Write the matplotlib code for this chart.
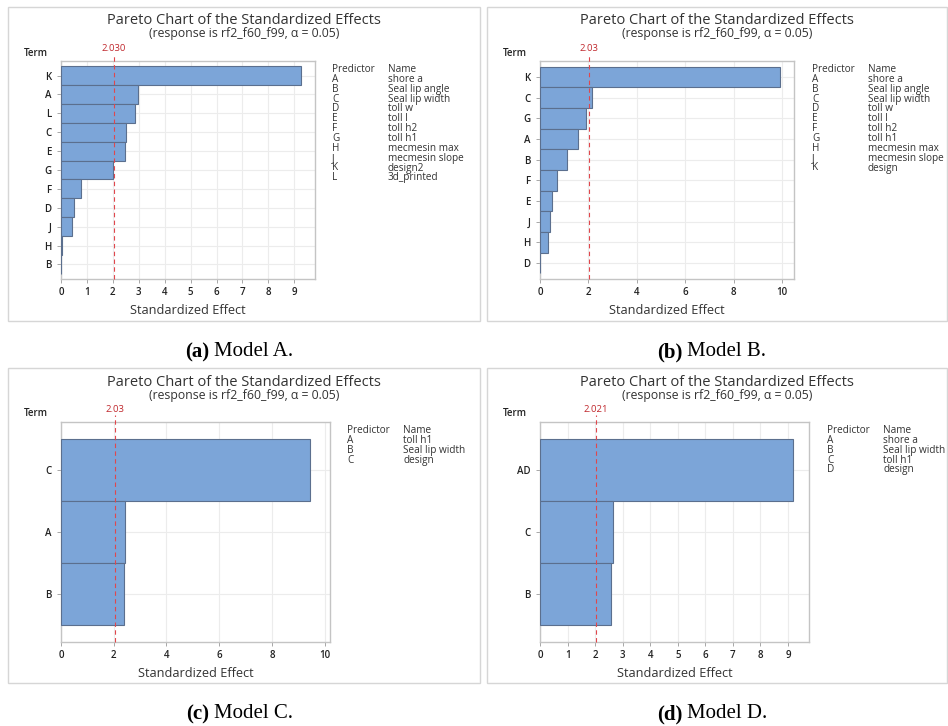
import numpy as np
import matplotlib
matplotlib.use("Agg")
import matplotlib.pyplot as plt
from matplotlib.patches import Rectangle

plt.rcParams['font.family'] = ['Open Sans', 'DejaVu Sans']

W, H = 948, 726

# data
terms_a = ['K', 'A', 'L', 'C', 'E', 'G', 'F', 'D', 'J', 'H', 'B']
effects_a = [9.27, 2.96, 2.86, 2.51, 2.46, 2.01, 0.76, 0.50, 0.44, 0.05, 0.01]
terms_b = ['K', 'C', 'G', 'A', 'B', 'F', 'E', 'J', 'H', 'D']
effects_b = [9.92, 2.14, 1.90, 1.56, 1.13, 0.70, 0.48, 0.41, 0.34, 0.02]
terms_c = ['C', 'A', 'B']
effects_c = [9.46, 2.41, 2.37]
terms_d = ['AD', 'C', 'B']
effects_d = [9.19, 2.645, 2.56]

thresholds = [2.030, 2.03, 2.03, 2.021]
threshold_labels = ['2.030', '2.03', '2.03', '2.021']

names_ab = ['shore a', 'Seal lip angle', 'Seal lip width', 'toll w', 'toll l',
            'toll h2', 'toll h1', 'mecmesin max', 'mecmesin slope']
pred_a = ['A', 'B', 'C', 'D', 'E', 'F', 'G', 'H', 'J', 'K', 'L']
names_a = names_ab + ['design2', '3d_printed']
pred_b = ['A', 'B', 'C', 'D', 'E', 'F', 'G', 'H', 'J', 'K']
names_b = names_ab + ['design']
pred_c = ['A', 'B', 'C']
names_c = ['toll h1', 'Seal lip width', 'design']
pred_d = ['A', 'B', 'C', 'D']
names_d = ['shore a', 'Seal lip width', 'toll h1', 'design']

captions = [('(a)', 'Model A.'), ('(b)', 'Model B.'), ('(c)', 'Model C.'), ('(d)', 'Model D.')]

BAR = '#7ca5d8'
EDGE = '#5b6f8e'
TXT = '#333333'

fig = plt.figure(figsize=(W / 100, H / 100), dpi=100)


def fx(x):
    return x / W


def fy(y):
    return 1 - y / H


def panel(frame, axbox, terms, effects, xmax, xticks, thr, thr_lab, preds, names, leg_x, cap):
    fl, ft, fr, fb = frame
    # light frame round each panel
    fig.add_artist(Rectangle((fx(fl), fy(fb)), fx(fr - fl), (fb - ft) / H,
                             transform=fig.transFigure, fill=False,
                             edgecolor='#d6d6d6', linewidth=1.0))
    cx = (fl + fr) / 2
    fig.text(fx(cx), fy(ft + 14), 'Pareto Chart of the Standardized Effects',
             ha='center', va='center', fontsize=10.5, color=TXT)
    fig.text(fx(cx), fy(ft + 27), '(response is rf2_f60_f99, \u03b1 = 0.05)',
             ha='center', va='center', fontsize=8.8, color=TXT)

    l, t, r, b = axbox
    ax = fig.add_axes([fx(l), fy(b), fx(r - l), (b - t) / H])
    y = np.arange(len(terms))
    ax.barh(y, effects, height=1.0, color=BAR, edgecolor=EDGE, linewidth=0.8, zorder=3)
    ax.set_xlim(0, xmax)
    ax.set_ylim(len(terms) - 1 + 0.77, -0.77)
    ax.set_xticks(xticks)
    ax.set_yticks(y)
    ax.set_yticklabels(terms)
    ax.tick_params(labelsize=7, colors='#999999', labelcolor='#222222', length=3, width=0.6)
    ax.tick_params(axis='x', pad=3)
    ax.tick_params(axis='y', pad=4)
    for lab in ax.get_xticklabels() + ax.get_yticklabels():
        lab.set_fontweight('semibold')
    ax.grid(True, color='#ececec', linewidth=0.8, zorder=0)
    for s in ax.spines.values():
        s.set_color('#c4c4c4')
        s.set_linewidth(1.0)
    ax.axvline(thr, ymin=0, ymax=1.03, color='#e0474c', linestyle=(0, (4, 3)),
               linewidth=0.8, clip_on=False, zorder=4)
    ax.text(thr, 1.035, thr_lab, transform=ax.get_xaxis_transform(),
            ha='center', va='bottom', fontsize=6.8, color='#c0282d')
    ax.set_xlabel('Standardized Effect', fontsize=9.2, color=TXT, labelpad=4)
    fig.text(fx(l - 25), fy(t - 8), 'Term', ha='center', va='center', fontsize=7,
             fontweight='semibold', color='#222222')

    # predictor / name key
    ky = t + 11
    fig.text(fx(leg_x), fy(ky), 'Predictor', ha='left', va='baseline', fontsize=7.2, color=TXT)
    fig.text(fx(leg_x + 56), fy(ky), 'Name', ha='left', va='baseline', fontsize=7.2, color=TXT)
    for i, (p, n) in enumerate(zip(preds, names)):
        yy = ky + 9.85 * (i + 1)
        fig.text(fx(leg_x), fy(yy), p, ha='left', va='baseline', fontsize=7.2, color=TXT)
        fig.text(fx(leg_x + 56), fy(yy), n, ha='left', va='baseline', fontsize=7.2, color=TXT)

    # caption under the frame
    capy = fb + 31
    fig.text(fx(cx - 35), fy(capy), cap[0], ha='right', va='center', fontsize=15,
             fontweight='bold', family='Liberation Serif', color='black')
    fig.text(fx(cx - 30), fy(capy), cap[1], ha='left', va='center', fontsize=15,
             family='Liberation Serif', color='black')


panel((8, 7, 480, 321), (61, 61, 315, 279), terms_a, effects_a, 9.8, range(0, 10),
      thresholds[0], threshold_labels[0], pred_a, names_a, 332, captions[0])
panel((487, 7, 947, 321), (540, 61, 794, 279), terms_b, effects_b, 10.5, range(0, 11, 2),
      thresholds[1], threshold_labels[1], pred_b, names_b, 812, captions[1])
panel((8, 368, 480, 683), (61, 422, 330, 642), terms_c, effects_c, 10.2, range(0, 11, 2),
      thresholds[2], threshold_labels[2], pred_c, names_c, 347, captions[2])
panel((487, 368, 947, 683), (540, 422, 809, 642), terms_d, effects_d, 9.76, range(0, 10),
      thresholds[3], threshold_labels[3], pred_d, names_d, 827, captions[3])

fig.savefig('out.png', dpi=100)
